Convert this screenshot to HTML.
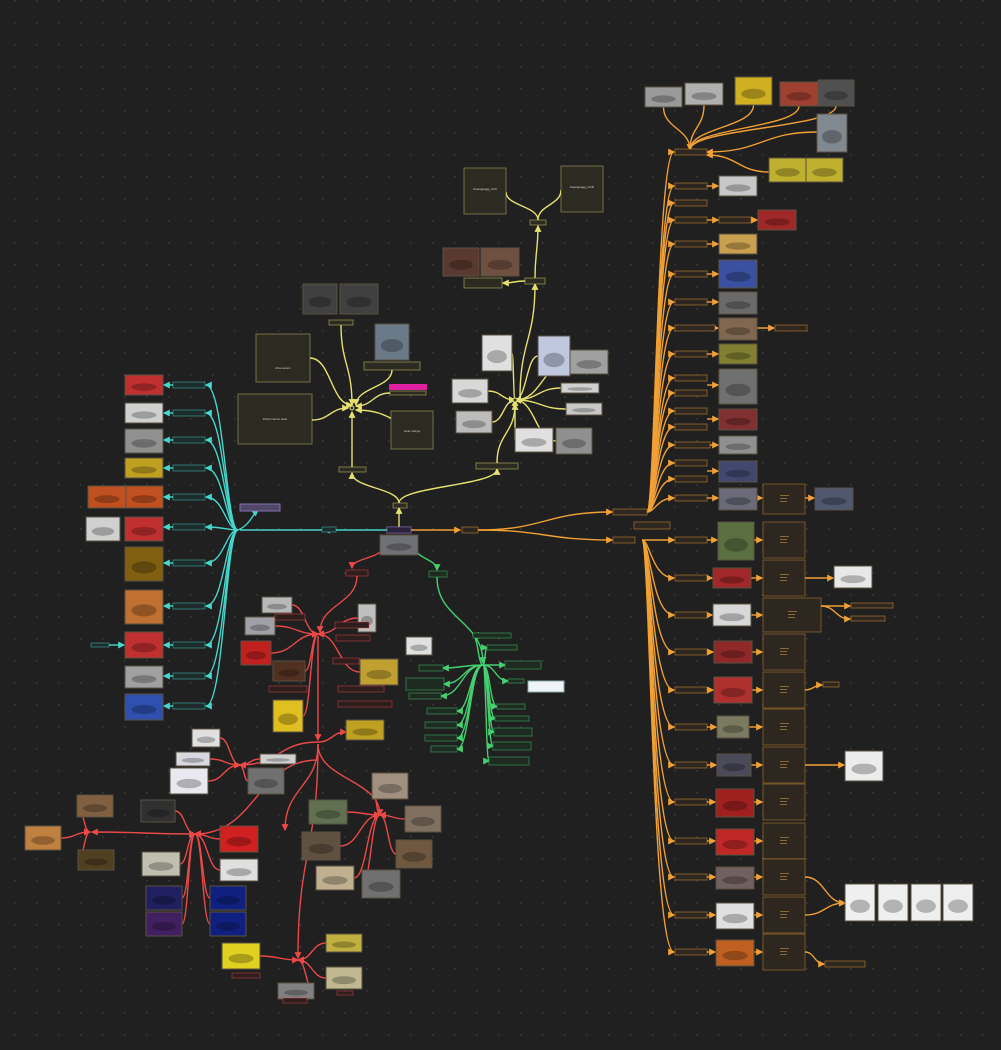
<!DOCTYPE html>
<html><head><meta charset="utf-8"><style>
html,body{margin:0;padding:0;background:#202020;width:1001px;height:1050px;overflow:hidden}
svg{display:block}
text{font-family:"Liberation Sans",sans-serif}
</style></head><body>
<svg id="s" width="1001" height="1050" viewBox="0 0 1001 1050" xmlns="http://www.w3.org/2000/svg">
<defs>
<pattern id="dots" x="14" y="0" width="22" height="22" patternUnits="userSpaceOnUse"><rect x="0" y="0" width="1.6" height="1.6" fill="#3a3a3a"/></pattern>
<marker id="mo" viewBox="0 0 6 6" refX="5" refY="3" markerWidth="5" markerHeight="5" orient="auto"><path d="M0,0L6,3L0,6z" fill="#f0a035"/></marker>
<marker id="mc" viewBox="0 0 6 6" refX="5" refY="3" markerWidth="5" markerHeight="5" orient="auto"><path d="M0,0L6,3L0,6z" fill="#45d6cc"/></marker>
<marker id="my" viewBox="0 0 6 6" refX="5" refY="3" markerWidth="5" markerHeight="5" orient="auto"><path d="M0,0L6,3L0,6z" fill="#e6e070"/></marker>
<marker id="mr" viewBox="0 0 6 6" refX="5" refY="3" markerWidth="5" markerHeight="5" orient="auto"><path d="M0,0L6,3L0,6z" fill="#ec4848"/></marker>
<marker id="mg" viewBox="0 0 6 6" refX="5" refY="3" markerWidth="5" markerHeight="5" orient="auto"><path d="M0,0L6,3L0,6z" fill="#45d070"/></marker>
</defs>
<rect width="1001" height="1050" fill="#202020"/>
<rect width="1001" height="1050" fill="url(#dots)"/>
<g id="lines"></g>
<g id="nodes"></g>
<text x="283" y="369" font-size="3" fill="#ccc" text-anchor="middle">dimensions</text>
<text x="275" y="420" font-size="3" fill="#ccc" text-anchor="middle">Performance stats</text>
<text x="412" y="432" font-size="3" fill="#ccc" text-anchor="middle">Gear ratings</text>
<text x="485" y="190" font-size="3" fill="#ddd" text-anchor="middle">Koenigsegg_CCX</text>
<text x="582" y="188" font-size="3" fill="#ddd" text-anchor="middle">Koenigsegg_CCR</text>
</svg>
<script>
var L=document.getElementById('lines'),N=document.getElementById('nodes'),NS='http://www.w3.org/2000/svg';
function e(p,t,a){var x=document.createElementNS(NS,t);for(var k in a)x.setAttribute(k,a[k]);p.appendChild(x);return x;}
var C={o:'#f0a035',c:'#45d6cc',y:'#e6e070',r:'#ec4848',g:'#45d070'};
var F={o:'#2e271f',c:'#1d2b2b',y:'#2c2b22',r:'#2e1e1e',g:'#1e2b21'};
function lab(x,y,w,h,k){e(N,'rect',{x:x,y:y,width:w,height:h,fill:F[k],stroke:C[k],'stroke-opacity':0.45,'stroke-width':1});}
function box(x,y,w,h,k){e(N,'rect',{x:x,y:y,width:w,height:h,fill:F[k],stroke:C[k],'stroke-opacity':0.4,'stroke-width':1});
 if(k=='o'){for(var i=0;i<3;i++)e(N,'rect',{x:x+w/2-4,y:y+h/2-4+i*3,width:i==0?9:7,height:0.8,fill:'#a07840'});}}
var pal=['#8a8a8a','#b03030','#c9b030','#6a6a70','#d0d0d0','#3a4ea0','#7a6040','#505050','#c05020','#e8e8e8'];
var pi=0;
function img(x,y,w,h,c){c=c||pal[(pi++)%pal.length];e(N,'rect',{x:x,y:y,width:w,height:h,fill:c,stroke:'#5a5040','stroke-width':1});
 e(N,'ellipse',{cx:x+w/2,cy:y+h*0.6,rx:w*0.33,ry:h*0.18,fill:'#000','fill-opacity':0.25});}
function hc(x1,y1,x2,y2,k,arr){var m=(x1+x2)/2;e(L,'path',{d:'M'+x1+' '+y1+'C'+m+' '+y1+' '+m+' '+y2+' '+x2+' '+y2,fill:'none',stroke:C[k],'stroke-width':1.4,'marker-end':arr===false?'':'url(#m'+k+')'});}
function vc(x1,y1,x2,y2,k,arr){var m=(y1+y2)/2;e(L,'path',{d:'M'+x1+' '+y1+'C'+x1+' '+m+' '+x2+' '+m+' '+x2+' '+y2,fill:'none',stroke:C[k],'stroke-width':1.4,'marker-end':arr===false?'':'url(#m'+k+')'});}
function fan(x1,y1,x2,y2,k){e(L,'path',{d:'M'+x1+' '+y1+'C'+(x1+8)+' '+y1+' '+(x1+10)+' '+y2+' '+x2+' '+y2,fill:'none',stroke:C[k],'stroke-width':1.4,'marker-end':'url(#m'+k+')'});}

/* center */
lab(387,527,24,6,'y');e(N,'rect',{x:387,y:527,width:24,height:6,fill:'#2a2238',stroke:'#8060c0','stroke-opacity':0.6});
img(380,535,38,20,'#707078');

/* ORANGE */
hc(411,530,460,530,'o');lab(462,527,16,6,'o');
hc(478,530,612,512,'o');hc(478,530,612,540,'o');
lab(613,509,34,6,'o');lab(613,537,22,6,'o');lab(634,522,36,7,'o');
var up=[[152,32],[186,32],[203,32],[220,32],[244,32],[274,32],[302,32],[328,40],[354,32],[378,32],[393,32],[411,32],[427,32],[445,35],[463,32],[479,32],[498,32]];
up.forEach(function(r){fan(647,512,674,r[0],'o');lab(675,r[0]-3,r[1],6,'o');});
var upi=[[186,719,176,38,20,'#c8c8c8'],[244,719,234,38,20,'#c8a050'],[274,719,260,38,28,'#3a50a0'],[302,719,292,38,22,'#6a6a6a'],[328,719,318,38,22,'#806850'],[354,719,344,38,20,'#808030'],[385,719,369,38,35,'#707070'],[419,719,409,38,21,'#803030'],[445,719,436,38,18,'#909090'],[471,719,461,38,21,'#404870'],[498,719,488,38,22,'#6a6a78']];
upi.forEach(function(r){hc(707,r[0],718,r[0],'o');img(r[1],r[2],r[3],r[4],r[5]);});
hc(707,220,718,220,'o');lab(719,217,32,6,'o');hc(751,220,757,220,'o');img(758,210,38,20,'#a02828');
hc(757,328,774,328,'o');lab(775,325,32,6,'o');
hc(757,498,762,498,'o');box(763,484,42,30,'o');hc(805,498,814,498,'o');img(815,488,38,22,'#505870');
/* top cluster */
var tops=[[645,87,37,20,'#9a9a9a'],[685,83,38,22,'#b0b0b0'],[735,77,37,28,'#d0b020'],[780,82,38,24,'#a04030'],[818,80,36,26,'#505050'],[817,114,30,38,'#808890'],[769,158,37,24,'#c0b030'],[806,158,37,24,'#c0b030']];
tops.forEach(function(t,i){if(i<5)vc(t[0]+t[2]/2,t[1]+t[3],690,150,'o',i==2);});
hc(817,132,707,152,'o');hc(769,172,707,155,'o');
tops.forEach(function(t){img(t[0],t[1],t[2],t[3],t[4]);});
var lo=[[540,718,522,36,38,'#5a7040'],[578,713,568,38,20,'#a02828'],[615,713,604,38,22,'#d8d8d8'],[652,714,641,38,22,'#902828'],[690,714,677,38,26,'#b03030'],[727,717,716,32,22,'#7a7a60'],[765,717,754,34,22,'#4a4a58'],[802,716,789,38,28,'#a02020'],[841,716,829,38,26,'#c02828'],[877,716,867,38,22,'#706060'],[915,716,903,38,26,'#e0e0e0'],[952,716,940,38,26,'#c06020']];
lo.forEach(function(r){fan(642,540,674,r[0],'o');lab(675,r[0]-3,32,6,'o');hc(707,r[0],r[1]-1,r[0],'o');img(r[1],r[2],r[3],r[4],r[5]);
 hc(r[1]+r[3],r[0],762,r[0],'o');if(r[0]==615)box(763,598,58,34,'o');else box(763,r[0]-18,42,36,'o');});
hc(805,578,833,578,'o');img(834,566,38,22,'#e8e8e8');
hc(821,606,850,606,'o');hc(821,606,850,619,'o');lab(851,603,42,5,'o');lab(851,616,34,5,'o');
hc(805,690,822,685,'o');lab(823,682,16,5,'o');
hc(805,765,844,765,'o');img(845,751,38,30,'#ececec');
hc(805,877,845,903,'o');hc(805,915,845,903,'o');
[[845,884],[878,884],[911,884],[943,884]].forEach(function(d){img(d[0],d[1],30,37,'#efefef');});
hc(805,952,824,964,'o');lab(825,961,40,6,'o');

/* CYAN */
hc(387,530,324,530,'c');lab(322,527,14,5,'c');hc(322,530,240,530,'c',false);
var cy=[[385,125,375,38,20,'#c03030'],[413,125,403,38,20,'#d0d0d0'],[440,125,429,38,24,'#909090'],[468,125,458,38,20,'#c0a020'],[497,125,486,38,22,'#c05020'],[527,125,517,38,24,'#c03030'],[563,125,547,38,34,'#806010'],[606,125,590,38,34,'#c07030'],[645,125,632,38,26,'#c03030'],[676,125,666,38,22,'#a0a0a0'],[706,125,694,38,26,'#3050b0']];
cy.forEach(function(r){e(L,'path',{d:'M238 530C226 530 224 '+r[0]+' 206 '+r[0],fill:'none',stroke:C.c,'stroke-width':1.4,'marker-end':'url(#mc)'});
 lab(173,r[0]-3,32,6,'c');hc(173,r[0],164,r[0],'c');img(r[1],r[2],r[3],r[4],r[5]);});
img(88,486,38,22,'#c05020');img(86,517,34,24,'#d0d0d0');
lab(91,643,18,4,'c');hc(109,645,124,645,'c');
e(L,'path',{d:'M238 530C250 525 252 515 258 510',fill:'none',stroke:C.c,'stroke-width':1.4,'marker-end':'url(#mc)'});
e(N,'rect',{x:240,y:504,width:40,height:7,fill:'#504868',stroke:'#8870b0'});

/* YELLOW */
vc(399,527,399,508,'y');lab(393,503,14,5,'y');
vc(399,503,352,473,'y');vc(399,503,497,469,'y');
lab(339,467,27,5,'y');lab(476,463,42,6,'y');
vc(352,467,352,412,'y');
box(256,334,54,48,'y');box(238,394,74,50,'y');box(391,411,42,38,'y');
hc(310,358,352,405,'y');hc(312,420,348,408,'y');hc(433,430,356,410,'y');
vc(341,324,352,405,'y');lab(329,320,24,5,'y');img(303,284,34,30,'#404040');img(340,284,38,30,'#404040');
img(375,324,34,36,'#6a7a88');lab(364,362,56,8,'y');vc(392,370,356,405,'y');
e(N,'rect',{x:389,y:384,width:38,height:6,fill:'#e020a0'});lab(390,391,36,4,'y');hc(390,393,356,406,'y');
e(N,'circle',{cx:352,cy:408,r:2,fill:'#333',stroke:C.y});
vc(497,463,515,404,'y');
var yr=[[482,335,30,36,'#e0e0e0'],[538,336,32,40,'#c0c8e0'],[570,350,38,24,'#a0a0a0'],[452,379,36,24,'#d8d8d8'],[561,383,38,10,'#d0d0d0'],[566,403,36,12,'#c8c8c8'],[456,411,36,22,'#bcbcbc'],[515,428,38,24,'#e0e0e0'],[556,428,36,26,'#909090']];
yr.forEach(function(r){var cx=r[0]+r[2]/2,cy2=r[1]+r[3]/2;var tx=cx<515?r[0]+r[2]:r[0],ty=cy2;hc(tx,ty,515,400,'y');});
yr.forEach(function(r){img(r[0],r[1],r[2],r[3],r[4]);});
e(N,'circle',{cx:515,cy:400,r:2,fill:'#333',stroke:C.y});
vc(520,398,535,284,'y');lab(525,278,20,6,'y');
hc(525,281,503,283,'y');lab(464,278,38,10,'y');img(443,248,36,28,'#5a3a30');img(481,248,38,28,'#705040');
vc(535,278,538,226,'y');lab(530,220,16,5,'y');
vc(538,220,506,192,'y',false);vc(538,220,561,190,'y',false);
box(464,168,42,46,'y');box(561,166,42,46,'y');

/* RED */
vc(382,548,352,568,'r');lab(346,570,22,6,'r');
vc(357,576,320,632,'r');
var rr=[[262,597,30,16,'#b8b8b8'],[245,617,30,18,'#a0a0a8'],[358,604,18,28,'#c0c0c0'],[241,641,30,24,'#c02020'],[273,661,32,20,'#503020'],[360,659,38,26,'#c0a030'],[273,700,30,32,'#e0c020']];
rr.forEach(function(r){var cx=r[0]+r[2]/2;hc(cx<318?r[0]+r[2]:r[0],r[1]+r[3]/2,318,634,'r');img(r[0],r[1],r[2],r[3],r[4]);});
[[275,617,30],[335,625,34],[336,638,34],[333,661,26],[338,689,46],[338,704,54],[269,689,38]].forEach(function(l){lab(l[0],l[1]-3,l[2],6,'r');});
vc(318,636,318,740,'r');
hc(318,742,346,732,'r');img(346,720,38,20,'#c0a020');
hc(318,742,240,765,'r');
[[192,729,28,18,'#e0e0e0'],[176,752,34,14,'#d8d8e0'],[260,754,36,10,'#d0d0d0'],[170,768,38,26,'#e8e8f0'],[248,768,36,26,'#707070']].forEach(function(r){var cx=r[0]+r[2]/2;hc(cx<240?r[0]+r[2]:r[0],r[1]+r[3]/2,240,765,'r');img(r[0],r[1],r[2],r[3],r[4]);});
vc(318,744,380,815,'r');vc(318,744,285,830,'r');vc(318,744,298,958,'r');
[[372,773,36,26,'#a09080'],[309,800,38,24,'#607050'],[405,806,36,26,'#807060'],[302,832,38,28,'#605040'],[396,840,36,28,'#705840'],[316,866,38,24,'#c0b090'],[362,870,38,28,'#707070']].forEach(function(r){var cx=r[0]+r[2]/2;hc(cx<380?r[0]+r[2]:r[0],r[1]+r[3]/2,380,815,'r');img(r[0],r[1],r[2],r[3],r[4]);});
hc(318,760,195,834,'r');
[[141,800,34,22,'#303030'],[220,826,38,26,'#d02020'],[220,859,38,22,'#e0e0e0'],[142,852,38,24,'#c0c0b0'],[146,886,36,24,'#202060'],[210,886,36,24,'#102080'],[146,912,36,24,'#402060'],[210,912,36,24,'#102080']].forEach(function(r){var cx=r[0]+r[2]/2;hc(cx<195?r[0]+r[2]:r[0],r[1]+r[3]/2,195,834,'r');img(r[0],r[1],r[2],r[3],r[4]);});
hc(195,834,92,832,'r');
[[25,826,36,24,'#c08040'],[77,795,36,22,'#806040'],[78,850,36,20,'#504020']].forEach(function(r){var cx=r[0]+r[2]/2;hc(cx<90?r[0]+r[2]:r[0],r[1]+r[3]/2,90,832,'r');img(r[0],r[1],r[2],r[3],r[4]);});
[[222,943,38,26,'#e0d020'],[326,934,36,18,'#c0b040'],[326,967,36,22,'#c0b890'],[278,983,36,16,'#808080']].forEach(function(r){var cx=r[0]+r[2]/2;hc(cx<298?r[0]+r[2]:r[0],r[1]+r[3]/2,298,960,'r');img(r[0],r[1],r[2],r[3],r[4]);});
lab(232,973,28,5,'r');lab(283,998,24,5,'r');lab(337,991,16,4,'r');

/* GREEN */
vc(416,548,437,570,'g');lab(429,571,18,6,'g');
vc(437,577,483,663,'g');
var gl=[[473,633,38,5],[487,645,30,5],[505,661,36,8],[508,679,16,4],[419,665,24,6],[406,678,38,12],[409,693,32,6],[427,708,30,6],[425,722,32,6],[425,735,32,6],[431,746,26,6],[497,704,28,5],[495,716,34,5],[494,728,38,8],[493,742,38,8],[489,757,40,8]];
gl.forEach(function(l){var cx=l[0]+l[2]/2;hc(483,665,cx<483?l[0]+l[2]:l[0],l[1]+l[3]/2,'g');lab(l[0],l[1],l[2],l[3],'g');});
e(N,'rect',{x:528,y:681,width:36,height:11,fill:'#f0f4f8',stroke:'#8aa'});
img(406,637,26,18,'#e0e0e0');
</script>
</body></html>
